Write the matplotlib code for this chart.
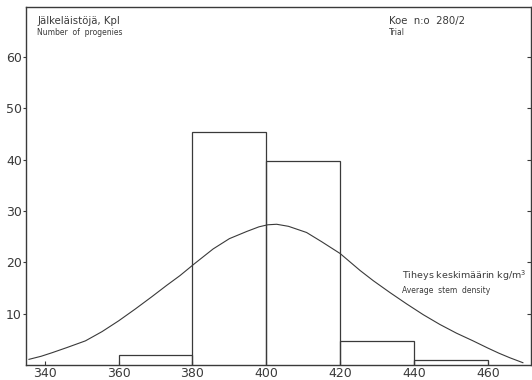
import matplotlib
matplotlib.use('Agg')
import matplotlib.pyplot as plt

# Histogram of progeny stem densities, trial 280/2
bin_edges = [360, 380, 400, 420, 440, 460]
counts = [2.0, 45.3, 39.8, 4.6, 0.9]

# Fitted frequency curve, points taken along the drawn line
curve_x = [335.7, 339, 342, 346, 351, 355.5, 360, 364.5, 369, 373, 376.6, 380.5,
           385.6, 390, 394.7, 398, 400.4, 402.8, 406, 410.9, 415, 420, 425.4,
           429, 433.5, 438, 442.5, 447, 451.5, 456, 460, 463, 466, 469.5]
curve_y = [1.1, 1.7, 2.4, 3.4, 4.7, 6.5, 8.6, 10.9, 13.3, 15.5, 17.4, 19.7,
           22.6, 24.6, 26.0, 26.9, 27.3, 27.4, 27.0, 25.8, 24.0, 21.7, 18.4,
           16.4, 14.1, 11.9, 9.8, 7.9, 6.2, 4.7, 3.3, 2.3, 1.4, 0.45]

xticks = [340, 360, 380, 400, 420, 440, 460]
yticks = [10, 20, 30, 40, 50, 60]

ink = '#3a3a3a'
plt.rcParams['font.family'] = ['DejaVu Sans']

fig = plt.figure(figsize=(5.32, 3.8), dpi=100)
ax = fig.add_axes([26/532, 15/380, 505/532, 358/380])

for left, right, h in zip(bin_edges[:-1], bin_edges[1:], counts):
    ax.plot([left, left, right, right], [0, h, h, 0], color=ink, lw=0.9,
            solid_joinstyle='miter')

ax.plot(curve_x, curve_y, color=ink, lw=0.8)

ax.set_xlim(334.9, 471.7)
ax.set_ylim(0, 69.7)
ax.set_xticks(xticks)
ax.set_yticks(yticks)
ax.tick_params(axis='x', direction='in', length=3, color=ink, labelcolor=ink,
               labelsize=9, pad=1.5, width=0.8)
ax.tick_params(axis='y', direction='out', length=2, color=ink, labelcolor=ink,
               labelsize=9, pad=1, width=0.8, right=True)
for side in ['left', 'bottom', 'top', 'right']:
    ax.spines[side].set_color(ink)
    ax.spines[side].set_linewidth(1.0)

# right-hand ticks point inwards
for t in ax.yaxis.get_ticklines()[1::2]:
    t.set_marker(0)
    t.set_markersize(3)

ax.text(0.022, 0.975, 'Jälkeläistöjä, Kpl', transform=ax.transAxes, fontsize=7.3,
        color=ink, va='top', ha='left')
ax.text(0.022, 0.94, 'Number  of  progenies', transform=ax.transAxes, fontsize=5.5,
        color=ink, va='top', ha='left')
ax.text(0.718, 0.975, 'Koe  n:o  280/2', transform=ax.transAxes, fontsize=7.3,
        color=ink, va='top', ha='left')
ax.text(0.718, 0.94, 'Trial', transform=ax.transAxes, fontsize=5.5,
        color=ink, va='top', ha='left')
ax.text(0.745, 0.23, 'Tiheys keskimäärin kg/m$^3$', transform=ax.transAxes,
        fontsize=6.8, color=ink, va='bottom', ha='left')
ax.text(0.745, 0.222, 'Average  stem  density', transform=ax.transAxes,
        fontsize=5.5, color=ink, va='top', ha='left')

fig.savefig('out.png', dpi=100)
